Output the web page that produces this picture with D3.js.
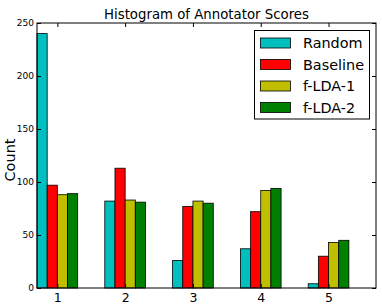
<!DOCTYPE html>
<html><head><meta charset="utf-8">
<script src="https://cdn.jsdelivr.net/npm/d3@7"></script>
<style>body{margin:0;background:#fff}svg{display:block}text{font-family:"DejaVu Sans",sans-serif}</style>
</head><body><svg id="c" width="382" height="306"></svg>
<script>
const categories = [1, 2, 3, 4, 5];
const seriesNames = ["Random", "Baseline", "f-LDA-1", "f-LDA-2"];
const seriesColors = ["#00BFBF", "#FF0000", "#BFBF00", "#008000"];
const random   = [240, 82, 26, 37, 4];
const baseline = [97, 113, 77, 72, 30];
const flda1    = [88, 83, 82, 92, 43];
const flda2    = [89, 81, 80, 94, 45];
const yTicks = [0, 50, 100, 150, 200, 250];
const series = [random, baseline, flda1, flda2];

const svg = d3.select("#c");
const L = 37, R = 376, T = 23, B = 288;
const x = d3.scaleLinear().domain([0.7, 5.7]).range([L, R]);
const y = d3.scaleLinear().domain([0, 250]).range([B, T]);
const bw = 0.15;

series.forEach((vals, si) => {
  svg.append("g").selectAll("rect").data(vals).join("rect")
    .attr("x", (d, i) => x(categories[i] - 0.3 + si * bw))
    .attr("width", x(bw) - x(0))
    .attr("y", d => y(d))
    .attr("height", d => y(0) - y(d))
    .attr("fill", seriesColors[si])
    .attr("stroke", "#000").attr("stroke-width", 0.8);
});

// axes
const gl = svg.append("g").attr("transform", `translate(${L},0)`)
  .call(d3.axisLeft(y).tickValues(yTicks).tickSizeInner(-4).tickSizeOuter(0).tickPadding(3));
const gr = svg.append("g").attr("transform", `translate(${R},0)`)
  .call(d3.axisRight(y).tickValues(yTicks).tickSizeInner(-4).tickSizeOuter(0).tickFormat(""));
const gb = svg.append("g").attr("transform", `translate(0,${B})`)
  .call(d3.axisBottom(x).tickValues(categories).tickSizeInner(-4).tickSizeOuter(0).tickPadding(5).tickFormat(d3.format("d")));
const gt = svg.append("g").attr("transform", `translate(0,${T})`)
  .call(d3.axisTop(x).tickValues(categories).tickSizeInner(-4).tickSizeOuter(0).tickFormat(""));
[gl, gr, gb, gt].forEach(g => { g.select(".domain").remove(); g.selectAll("line").attr("stroke", "#000"); });
gl.selectAll("text").attr("font-size", 9).attr("fill", "#000").attr("font-family", "DejaVu Sans");
gb.selectAll("text").attr("font-size", 12.5).attr("fill", "#000").attr("font-family", "DejaVu Sans");

svg.append("rect").attr("x", L).attr("y", T).attr("width", R - L).attr("height", B - T)
  .attr("fill", "none").attr("stroke", "#000").attr("stroke-width", 1);

svg.append("text").attr("x", (L + R) / 2).attr("y", 19).attr("text-anchor", "middle")
  .attr("font-size", 13.3).text("Histogram of Annotator Scores");
svg.append("text").attr("transform", `translate(15,160) rotate(-90)`).attr("text-anchor", "middle")
  .attr("font-size", 14.5).text("Count");

// legend
const lg = svg.append("g");
lg.append("rect").attr("x", 254.5).attr("y", 30.5).attr("width", 115).attr("height", 88.5)
  .attr("fill", "#fff").attr("stroke", "#000").attr("stroke-width", 1);
seriesNames.forEach((n, i) => {
  const cy = 43 + i * 21.5;
  lg.append("rect").attr("x", 260.5).attr("y", cy - 5).attr("width", 30).attr("height", 10)
    .attr("fill", seriesColors[i]).attr("stroke", "#000").attr("stroke-width", 0.8);
  lg.append("text").attr("x", 303).attr("y", cy + 5.2).attr("font-size", 14.4).text(n);
});
</script></body></html>
